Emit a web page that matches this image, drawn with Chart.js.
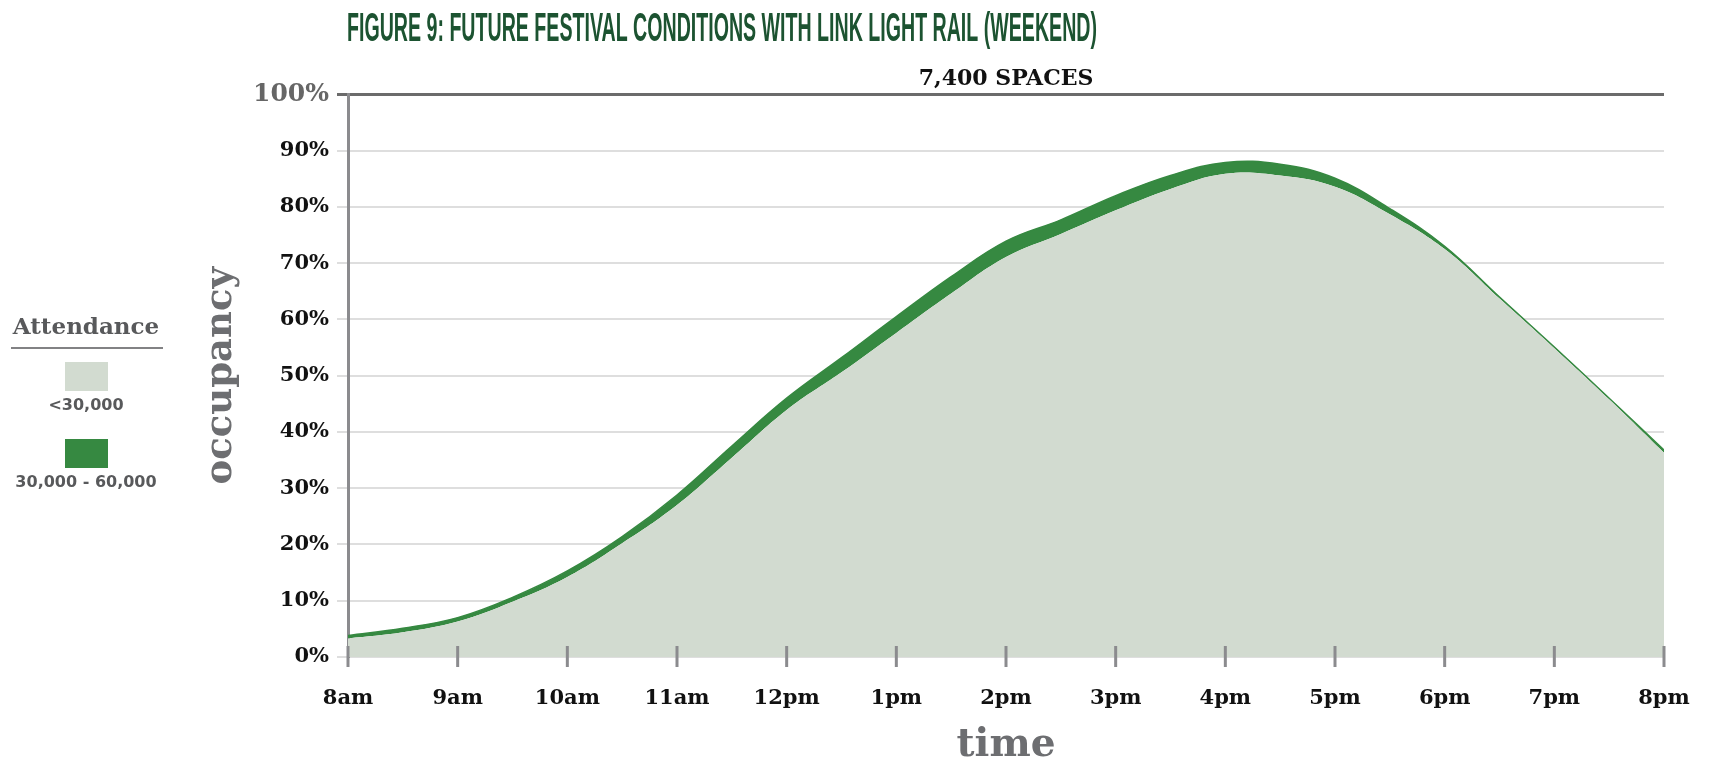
<!DOCTYPE html>
<html>
<head>
<meta charset="utf-8">
<title>Figure 9</title>
<script src="https://cdn.jsdelivr.net/npm/chart.js@4.4.0/dist/chart.umd.min.js"></script>
<style>
  html, body { margin: 0; padding: 0; background: #fff; }
</style>
</head>
<body>
<canvas id="mycanvas" width="1710" height="769"></canvas>
<script>
var figureTitle = "FIGURE 9: FUTURE FESTIVAL CONDITIONS WITH LINK LIGHT RAIL (WEEKEND)";
var chartTitle = "7,400 SPACES";
var legendTitle = "Attendance";

// half-hour readings, 8am -> 8pm
var hours = [8, 8.5, 9, 9.5, 10, 10.5, 11, 11.5, 12, 12.5, 13, 13.5, 14,
             14.5, 15, 15.5, 16, 16.5, 17, 17.5, 18, 18.5, 19, 19.5, 20];
var under30k = [3.3, 4.4, 6.3, 9.8, 14.2, 20.2, 27.0, 35.4, 43.9, 50.6, 57.6, 64.6, 71.1,
                75.2, 79.4, 83.2, 85.9, 85.6, 83.6, 78.7, 72.5, 63.7, 54.9, 45.8, 36.3];
var upTo60k = [3.8, 5.1, 7.0, 10.6, 15.3, 21.4, 28.8, 37.5, 46.0, 53.2, 60.5, 67.6, 73.9,
               77.7, 82.0, 85.6, 87.9, 87.6, 85.1, 79.7, 73.0, 64.0, 55.1, 46.0, 36.8];
var seriesNames = ["<30,000", "30,000 - 60,000"];

var tickHours = [8, 9, 10, 11, 12, 13, 14, 15, 16, 17, 18, 19, 20];
var hourLabels = ["8am", "9am", "10am", "11am", "12pm", "1pm", "2pm", "3pm", "4pm", "5pm", "6pm", "7pm", "8pm"];

var lightFill = '#d2dbd0';
var darkFill = '#368941';
var serif = 'DejaVu Serif';

function pts(vals) {
  return vals.map(function(v, i) { return {x: hours[i], y: v}; });
}

var extras = {
  id: 'extras',
  afterDraw: function(chart) {
    var ctx = chart.ctx;
    var area = chart.chartArea;
    var xs = chart.scales.x;

    // x tick marks crossing the baseline
    ctx.save();
    ctx.strokeStyle = '#8b8b8e';
    ctx.lineWidth = 3;
    xs.ticks.forEach(function(t) {
      var px = xs.getPixelForValue(t.value);
      ctx.beginPath();
      ctx.moveTo(px, area.bottom - 11);
      ctx.lineTo(px, area.bottom + 10);
      ctx.stroke();
    });
    ctx.restore();

    // figure heading, condensed
    ctx.save();
    ctx.font = 'bold 40px "Liberation Sans"';
    var w = ctx.measureText(figureTitle).width;
    ctx.translate(area.left - 1, 41);
    ctx.scale(750 / w, 1);
    ctx.fillStyle = '#1c5331';
    ctx.textBaseline = 'alphabetic';
    ctx.fillText(figureTitle, 0, 0);
    ctx.restore();

    // legend on the left
    ctx.save();
    var cx = 86;
    ctx.fillStyle = '#58595b';
    ctx.textAlign = 'center';
    ctx.textBaseline = 'middle';
    ctx.font = 'bold 23px "' + serif + '"';
    ctx.fillText(legendTitle, cx, 328);
    ctx.strokeStyle = '#58595b';
    ctx.lineWidth = 1.5;
    ctx.beginPath();
    ctx.moveTo(11, 348);
    ctx.lineTo(163, 348);
    ctx.stroke();
    var ds = chart.data.datasets;
    ds.forEach(function(d, i) {
      var top = 362 + i * 77;
      ctx.fillStyle = d.backgroundColor;
      ctx.fillRect(cx - 21, top, 43, 29);
      ctx.fillStyle = '#58595b';
      ctx.font = 'bold 16px "DejaVu Sans"';
      ctx.fillText(d.label, cx, top + 44);
    });
    ctx.restore();
  }
};

var chart = new Chart(document.getElementById('mycanvas'), {
  type: 'line',
  data: {
    datasets: [{
      label: seriesNames[0],
      data: pts(under30k),
      backgroundColor: lightFill,
      borderColor: lightFill,
      borderWidth: 0,
      fill: 'origin',
      pointRadius: 0,
      tension: 0.4
    }, {
      label: seriesNames[1],
      data: pts(upTo60k),
      backgroundColor: darkFill,
      borderColor: darkFill,
      borderWidth: 1.5,
      fill: '-1',
      pointRadius: 0,
      tension: 0.4
    }]
  },
  options: {
    responsive: false,
    animation: false,
    devicePixelRatio: 1,
    layout: {
      padding: { left: 180, right: 46, top: 60, bottom: 0 }
    },
    plugins: {
      legend: { display: false },
      tooltip: { enabled: false },
      title: {
        display: true,
        text: chartTitle,
        fullSize: false,
        color: '#111',
        font: { family: serif, weight: 'bold', size: 22 },
        padding: { top: 6, bottom: 2 }
      }
    },
    scales: {
      x: {
        type: 'linear',
        min: 8,
        max: 20,
        afterBuildTicks: function(scale) {
          scale.ticks = tickHours.map(function(h) { return {value: h}; });
        },
        afterFit: function(scale) { scale.height = 112; },
        grid: {
          drawOnChartArea: false,
          drawTicks: true,
          tickLength: 26,
          color: 'rgba(0,0,0,0)'
        },
        border: { display: false },
        ticks: {
          autoSkip: false,
          maxRotation: 0,
          padding: 3,
          color: '#111',
          font: { family: serif, weight: 'bold', size: 21 },
          callback: function(v) { return hourLabels[tickHours.indexOf(v)]; }
        },
        title: {
          display: true,
          text: 'time',
          color: '#6d6e71',
          font: { family: serif, weight: 'bold', size: 39 },
          padding: { top: 0, bottom: 0 }
        }
      },
      y: {
        min: 0,
        max: 100,
        afterFit: function(scale) { scale.width = 168; },
        grid: {
          color: function(c) { return c.tick && c.tick.value === 100 ? '#6b6b6b' : '#dedede'; },
          lineWidth: function(c) { return c.tick && c.tick.value === 100 ? 3 : 2; },
          tickLength: 11
        },
        border: { color: '#8b8b8e', width: 3 },
        ticks: {
          stepSize: 10,
          padding: 8,
          color: function(c) { return c.tick.value === 100 ? '#666' : '#111'; },
          font: function(c) {
            return { family: serif, weight: 'bold', size: c.tick && c.tick.value === 100 ? 25 : 21 };
          },
          callback: function(v) { return v + '%'; }
        },
        title: {
          display: true,
          text: 'occupancy',
          color: '#6d6e71',
          font: { family: serif, weight: 'bold', size: 37 },
          padding: { top: 19, bottom: 0 }
        }
      }
    }
  },
  plugins: [extras]
});
</script>
</body>
</html>
